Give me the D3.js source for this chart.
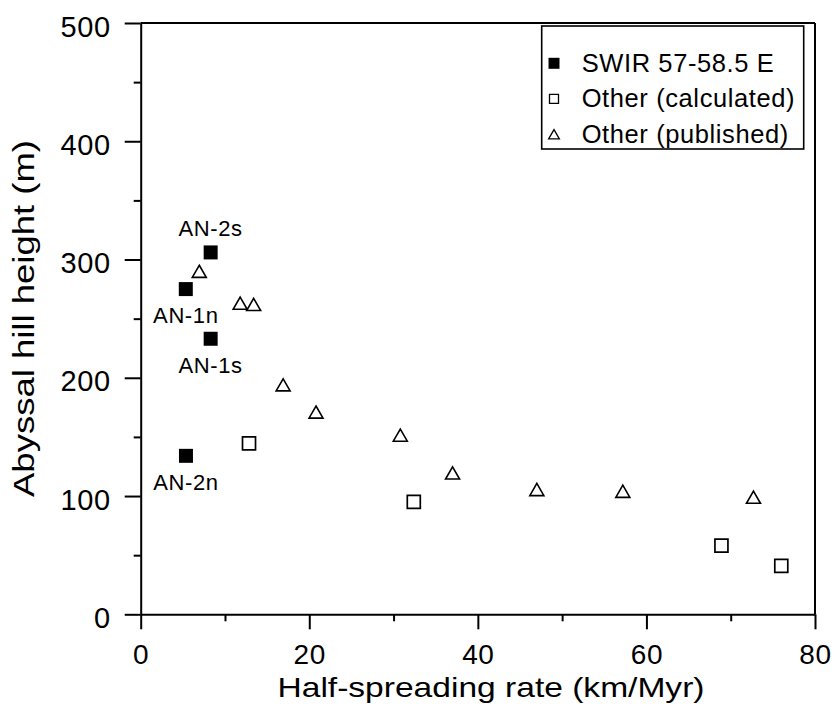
<!DOCTYPE html>
<html>
<head>
<meta charset="utf-8">
<script src="https://cdn.jsdelivr.net/npm/d3@7"></script>
<style>
  html, body { margin: 0; padding: 0; background: #fff; }
  svg { display: block; }
  text { font-family: "Liberation Sans", Arial, Helvetica, sans-serif; fill: #000; }
</style>
</head>
<body>
<svg id="chart" width="836" height="726"></svg>
<script>
// ---- data ----
const swirRate   = [8.3, 5.35, 8.3, 5.37];
const swirHeight = [306, 275, 233, 134];
const swirLabels = ["AN-2s", "AN-1n", "AN-1s", "AN-2n"];
const swirLabelAbove = [true, false, false, false];

const calcRate   = [12.85, 32.4, 68.9, 76.0];
const calcHeight = [144.5, 95, 58, 41];

const pubRate   = [6.95, 11.8, 13.4, 16.9, 20.8, 30.8, 37.0, 47.0, 57.2, 72.7];
const pubHeight = [290, 263, 262, 194, 171, 151.5, 119.5, 105.5, 104, 99];

const xTicks = [0, 20, 40, 60, 80];
const xMinorTicks = [10, 30, 50, 70];
const yTicks = [0, 100, 200, 300, 400, 500];
const yMinorTicks = [50, 150, 250, 350, 450];

const legendLabels = ["SWIR 57-58.5 E", "Other (calculated)", "Other (published)"];
const xTitle = "Half-spreading rate (km/Myr)";
const yTitle = "Abyssal hill height (m)";

// ---- layout ----
const svg = d3.select("#chart");
const FONT = '"Liberation Sans", Arial, Helvetica, sans-serif';
const x = d3.scaleLinear().domain([0, 80]).range([140.7, 815]);
const y = d3.scaleLinear().domain([0, 500]).range([614.3, 23]);

// frame top & right
svg.append("line").attr("x1", x(0)).attr("x2", x(80)).attr("y1", y(500)).attr("y2", y(500))
  .attr("stroke", "#000").attr("stroke-width", 2);
svg.append("line").attr("x1", x(80)).attr("x2", x(80)).attr("y1", y(500)).attr("y2", y(0))
  .attr("stroke", "#000").attr("stroke-width", 2);

// x axis
const gx = svg.append("g").attr("transform", `translate(0,${y(0)})`)
  .call(d3.axisBottom(x).tickValues(xTicks).tickSize(15).tickSizeOuter(0).tickPadding(15).tickFormat(d3.format("d")));
const gxm = svg.append("g").attr("transform", `translate(0,${y(0)})`)
  .call(d3.axisBottom(x).tickValues(xMinorTicks).tickSize(7).tickSizeOuter(0).tickFormat(""));
gxm.select(".domain").remove();

// y axis
const gy = svg.append("g").attr("transform", `translate(${x(0)},0)`)
  .call(d3.axisLeft(y).tickValues(yTicks).tickSize(16).tickSizeOuter(0).tickPadding(14).tickFormat(d3.format("d")));
const gym = svg.append("g").attr("transform", `translate(${x(0)},0)`)
  .call(d3.axisLeft(y).tickValues(yMinorTicks).tickSize(7).tickSizeOuter(0).tickFormat(""));
gym.select(".domain").remove();

[gx, gxm, gy, gym].forEach(g => {
  g.attr("font-family", FONT);
  g.selectAll("line").attr("stroke", "#000").attr("stroke-width", 2);
  g.selectAll(".domain").attr("stroke", "#000").attr("stroke-width", 2);
});
gx.selectAll("text").attr("font-size", 28).attr("fill", "#000").attr("letter-spacing", 0.6);
gy.selectAll("text").attr("font-size", 29).attr("fill", "#000").attr("dy", "0.45em").attr("letter-spacing", 0.6);

// axis titles
svg.append("text").attr("x", 491).attr("y", 697).attr("text-anchor", "middle")
  .attr("font-size", 28).attr("textLength", 427).attr("lengthAdjust", "spacingAndGlyphs")
  .text(xTitle);
svg.append("text").attr("transform", "translate(34,318.5) rotate(-90)").attr("text-anchor", "middle")
  .attr("font-size", 29).attr("textLength", 357).attr("lengthAdjust", "spacingAndGlyphs")
  .text(yTitle);

// ---- marks ----
const triSym = d3.symbol().type(d3.symbolTriangle).size(85);
const sqFilled = d3.symbol().type(d3.symbolSquare).size(196);
const sqOpen = d3.symbol().type(d3.symbolSquare).size(169);

const pub = pubRate.map((r, i) => ({ r, h: pubHeight[i] }));
svg.append("g").selectAll("path").data(pub).join("path")
  .attr("d", triSym)
  .attr("transform", d => `translate(${x(d.r)},${y(d.h) + 2})`)
  .attr("fill", "#fff").attr("stroke", "#000").attr("stroke-width", 1.6).attr("stroke-linejoin", "miter");

const calc = calcRate.map((r, i) => ({ r, h: calcHeight[i] }));
svg.append("g").selectAll("path").data(calc).join("path")
  .attr("d", sqOpen)
  .attr("transform", d => `translate(${x(d.r)},${y(d.h)})`)
  .attr("fill", "#fff").attr("stroke", "#000").attr("stroke-width", 1.7);

const swir = swirRate.map((r, i) => ({ r, h: swirHeight[i], label: swirLabels[i], above: swirLabelAbove[i] }));
svg.append("g").selectAll("path").data(swir).join("path")
  .attr("d", sqFilled)
  .attr("transform", d => `translate(${x(d.r)},${y(d.h)})`)
  .attr("fill", "#000");

svg.append("g").selectAll("text").data(swir).join("text")
  .attr("x", d => x(d.r))
  .attr("y", d => y(d.h) + (d.above ? -16 : 34))
  .attr("text-anchor", "middle")
  .attr("font-size", 22).attr("letter-spacing", 0.6)
  .text(d => d.label);

// ---- legend ----
const lg = svg.append("g");
lg.append("rect").attr("x", 541.7).attr("y", 26).attr("width", 262).attr("height", 123)
  .attr("fill", "#fff").attr("stroke", "#000").attr("stroke-width", 1.6);
const legendSyms = [
  { d: d3.symbol().type(d3.symbolSquare).size(121)(), fill: "#000", stroke: "none", dy: 0 },
  { d: d3.symbol().type(d3.symbolSquare).size(81)(), fill: "#fff", stroke: "#000", dy: 0 },
  { d: d3.symbol().type(d3.symbolTriangle).size(50)(), fill: "#fff", stroke: "#000", dy: 1.5 }
];
legendLabels.forEach((lab, i) => {
  const cy = 63.3 + i * 35.5;
  lg.append("path").attr("d", legendSyms[i].d)
    .attr("transform", `translate(554,${cy + legendSyms[i].dy})`)
    .attr("fill", legendSyms[i].fill).attr("stroke", legendSyms[i].stroke).attr("stroke-width", 1.3);
  lg.append("text").attr("x", 581.7).attr("y", cy + 8.5)
    .attr("font-size", 25.5).attr("letter-spacing", 0.6)
    .text(lab);
});
</script>
</body>
</html>
